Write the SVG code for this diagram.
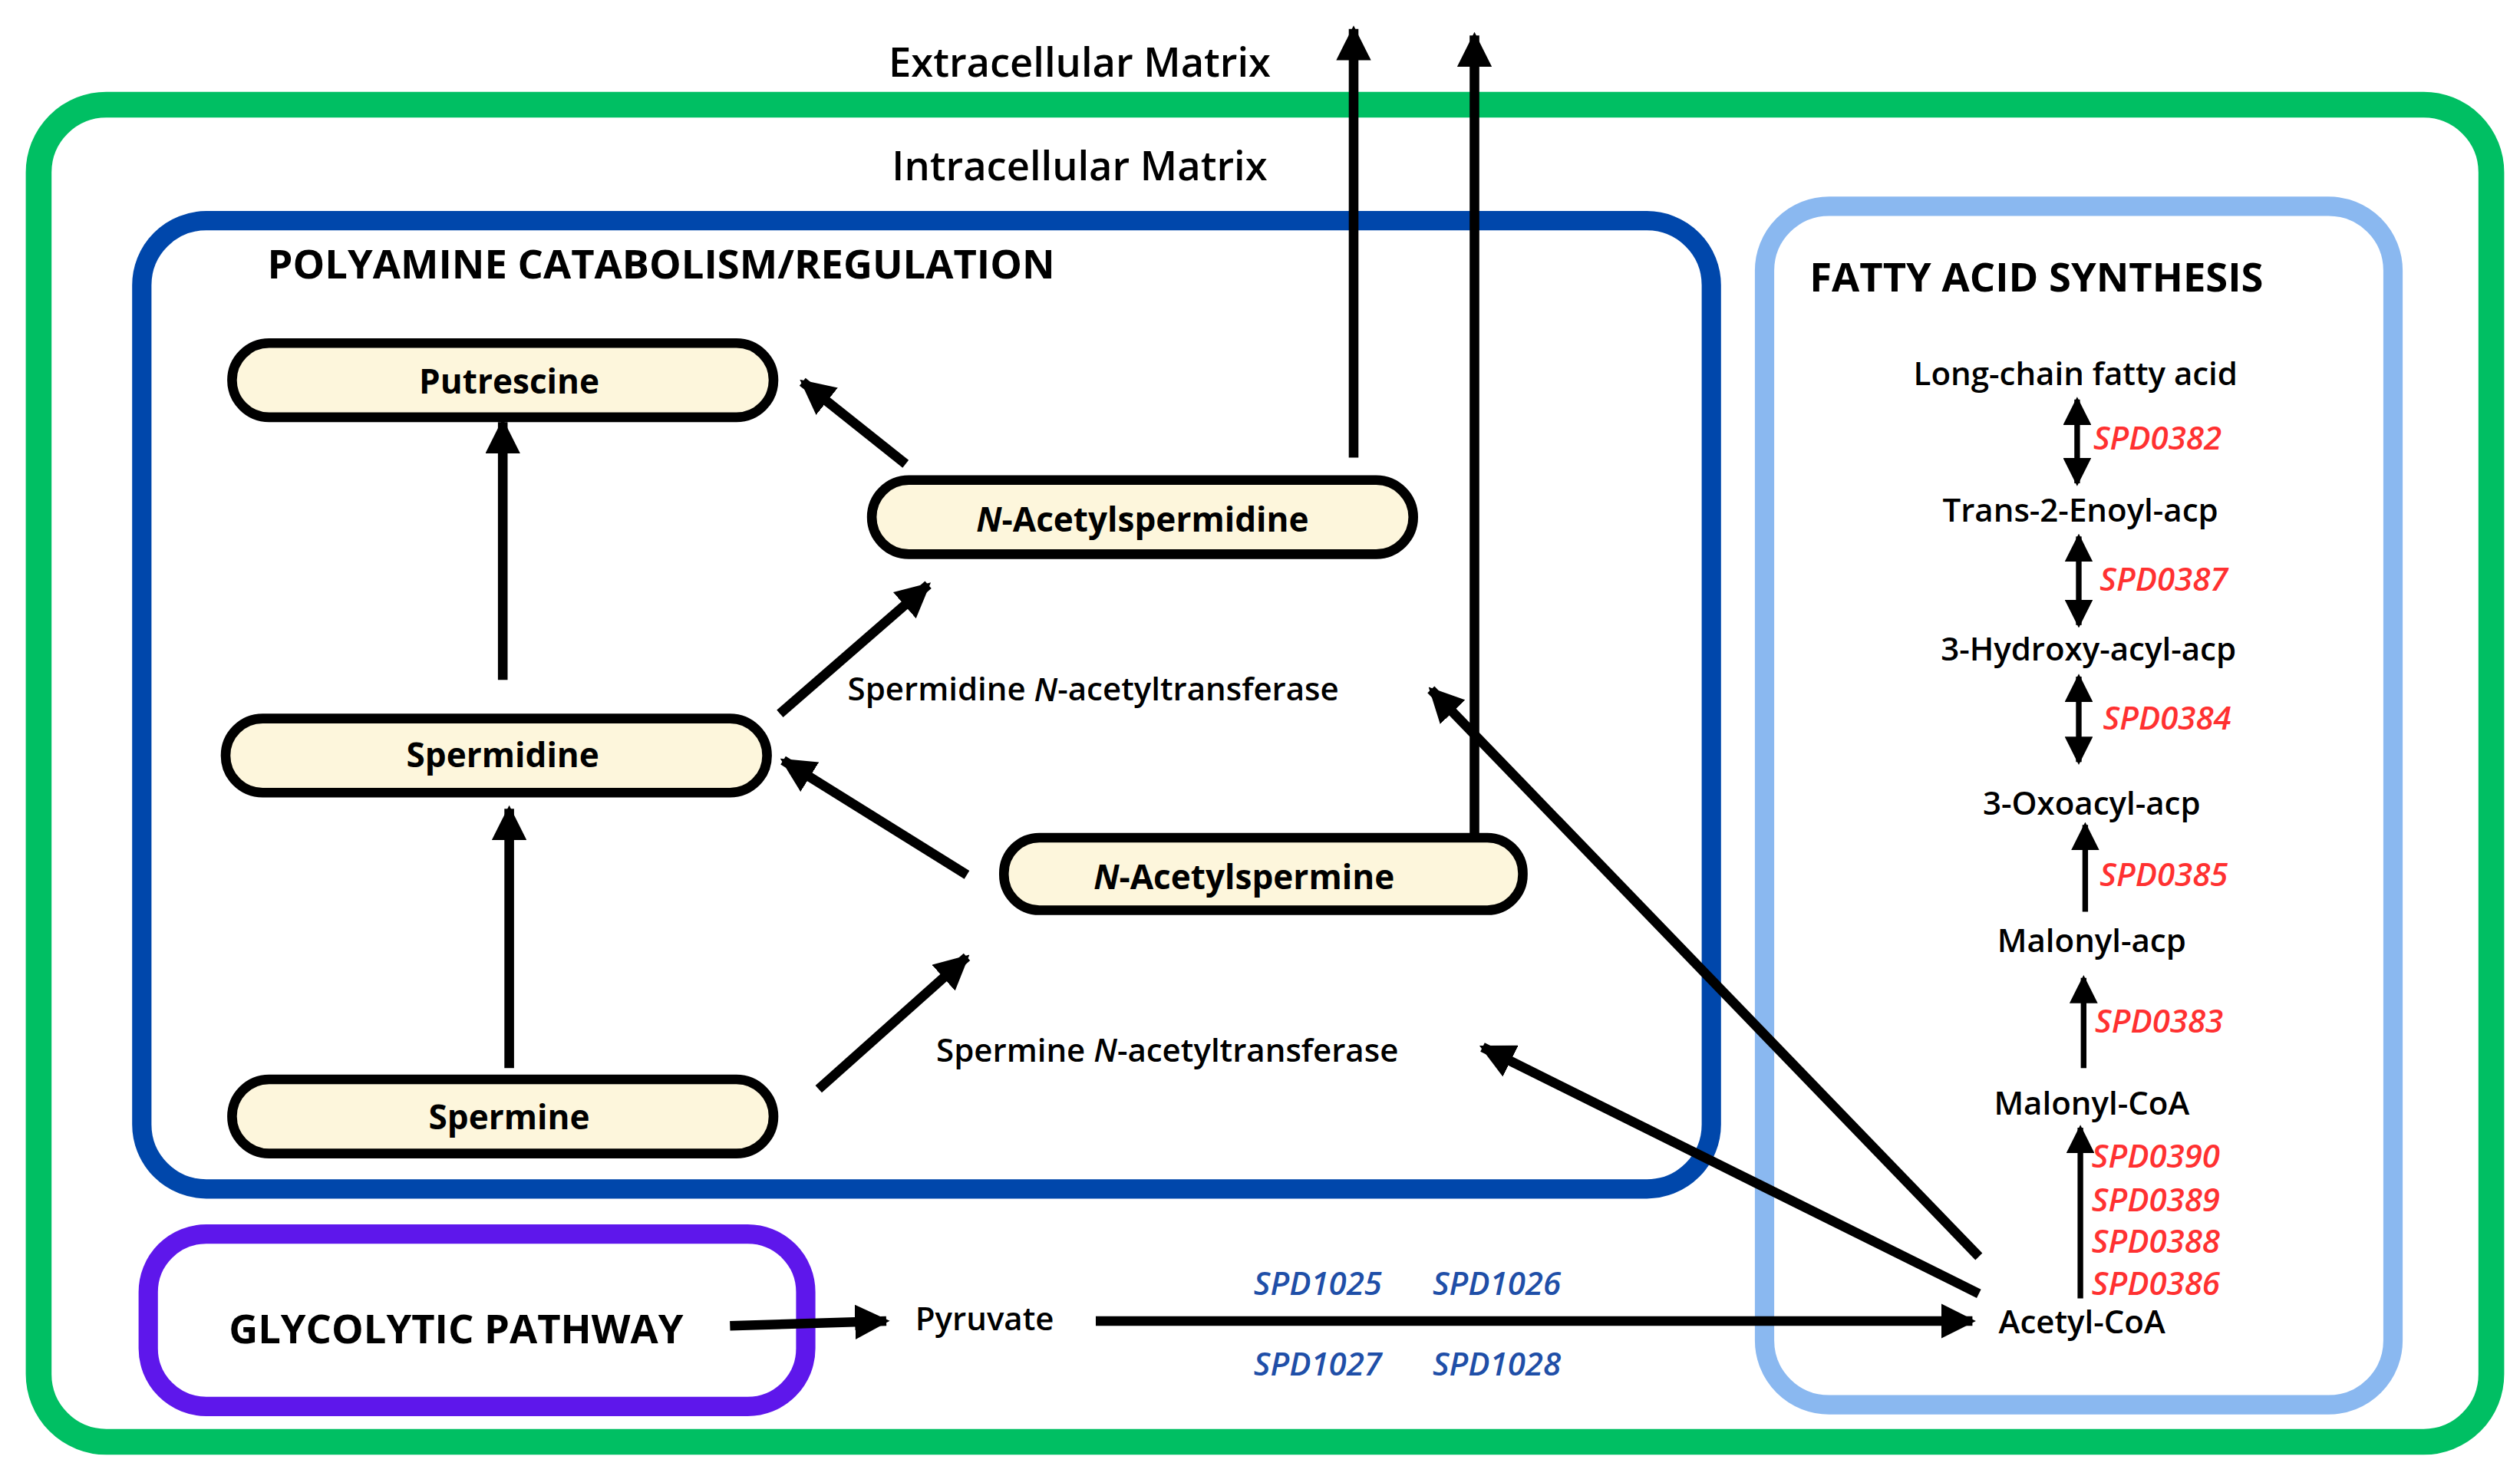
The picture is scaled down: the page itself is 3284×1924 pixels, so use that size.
<svg xmlns="http://www.w3.org/2000/svg" width="3284" height="1924" viewBox="0 0 3284 1924">
<defs>
<marker id="ah" viewBox="0 0 10 10" refX="9" refY="5" markerWidth="3.6" markerHeight="3.6" orient="auto-start-reverse" markerUnits="strokeWidth"><path d="M0,0 L10,5 L0,10 z" fill="#000"/></marker>
<marker id="ah2" viewBox="0 0 10 10" refX="9" refY="5" markerWidth="5" markerHeight="5" orient="auto-start-reverse" markerUnits="strokeWidth"><path d="M0,0 L10,5 L0,10 z" fill="#000"/></marker>
</defs>
<style>
text{font-family:"Open Sans","Liberation Sans",sans-serif;dominant-baseline:central}
.n{font-weight:bold;font-size:21px;text-anchor:middle}
.t{font-weight:bold;font-size:25px}
.m{font-size:20px;font-weight:600}
.r{font-size:20px;font-style:italic;font-weight:600;fill:#FF3131}
.b{font-size:20px;font-style:italic;font-weight:600;fill:#1F4FA8}
.pill{fill:#FDF6DC;stroke:#000;stroke-width:6}
.a{stroke:#000;stroke-width:6;fill:none;marker-end:url(#ah)}
.f{stroke:#000;stroke-width:3.5;fill:none;marker-end:url(#ah2)}
.d{stroke:#000;stroke-width:3.5;fill:none;marker-end:url(#ah2);marker-start:url(#ah2)}
</style>
<rect width="3284" height="1924" fill="#fff"/>
<g transform="scale(2.1)">
<g id="containers">
<rect x="24" y="65" width="1522" height="830" rx="42" fill="none" stroke="#00BF63" stroke-width="16"/>
<rect x="88" y="137" width="974" height="601" rx="40" fill="none" stroke="#0047AB" stroke-width="12"/>
<rect x="1095" y="128" width="390" height="744" rx="40" fill="none" stroke="#8AB8F0" stroke-width="12"/>
<rect x="92" y="766" width="408" height="107" rx="36" fill="none" stroke="#5E17EB" stroke-width="12"/>
</g>
<g id="labels">
<text class="t" x="670" y="38" text-anchor="middle" style="font-weight:600">Extracellular Matrix</text>
<text class="t" x="670" y="102" text-anchor="middle" style="font-weight:600">Intracellular Matrix</text>
<text class="t" x="166" y="163">POLYAMINE CATABOLISM/REGULATION</text>
<text class="t" x="1123" y="171">FATTY ACID SYNTHESIS</text>
<text class="t" x="142" y="824">GLYCOLYTIC PATHWAY</text>
<text class="m" x="526" y="427">Spermidine <tspan font-style="italic">N</tspan>-acetyltransferase</text>
<text class="m" x="581" y="651">Spermine <tspan font-style="italic">N</tspan>-acetyltransferase</text>
<text class="m" x="568" y="818">Pyruvate</text>
<text class="b" x="778" y="796">SPD1025</text><text class="b" x="889" y="796">SPD1026</text>
<text class="b" x="778" y="846">SPD1027</text><text class="b" x="889" y="846">SPD1028</text>
</g>
<g id="fatty" text-anchor="middle">
<text class="m" x="1288" y="231" text-anchor="middle">Long-chain fatty acid</text>
<text class="m" x="1291" y="316" text-anchor="middle">Trans-2-Enoyl-acp</text>
<text class="m" x="1296" y="402" text-anchor="middle">3-Hydroxy-acyl-acp</text>
<text class="m" x="1298" y="498" text-anchor="middle">3-Oxoacyl-acp</text>
<text class="m" x="1298" y="583" text-anchor="middle">Malonyl-acp</text>
<text class="m" x="1298" y="684" text-anchor="middle">Malonyl-CoA</text>
<text class="m" x="1292" y="820" text-anchor="middle">Acetyl-CoA</text>
</g>
<g id="genes">
<text class="r" x="1299" y="271">SPD0382</text>
<text class="r" x="1303" y="359">SPD0387</text>
<text class="r" x="1305" y="445">SPD0384</text>
<text class="r" x="1303" y="542">SPD0385</text>
<text class="r" x="1300" y="633">SPD0383</text>
<text class="r" x="1298" y="717">SPD0390</text>
<text class="r" x="1298" y="744">SPD0389</text>
<text class="r" x="1298" y="770">SPD0388</text>
<text class="r" x="1298" y="796">SPD0386</text>
</g>
<g id="putrescine"><rect class="pill" x="144" y="213" width="336" height="46" rx="23"/><text class="n" x="316" y="236">Putrescine</text></g>
<g id="nacetylspermidine"><rect class="pill" x="541" y="298" width="336" height="46" rx="23"/><text class="n" x="709" y="322"><tspan font-style="italic">N</tspan>-Acetylspermidine</text></g>
<g id="spermidine"><rect class="pill" x="140" y="446" width="336" height="46" rx="23"/><text class="n" x="312" y="468">Spermidine</text></g>
<g id="nacetylspermine"><rect class="pill" x="623" y="520" width="322" height="45" rx="22"/><text class="n" x="772" y="544"><tspan font-style="italic">N</tspan>-Acetylspermine</text></g>
<g id="spermine"><rect class="pill" x="144" y="670" width="336" height="46" rx="23"/><text class="n" x="316" y="693">Spermine</text></g>
<g id="connectors">
<path class="a" d="M312,422 L312,262"/>
<path class="a" d="M562,288 L498,237"/>
<path class="a" d="M484,443 L576,363"/>
<path class="a" d="M600,543 L486,472"/>
<path class="a" d="M316,663 L316,502"/>
<path class="a" d="M508,676 L600,594"/>
<path class="a" d="M840,284 L840,18"/>
<path class="a" d="M915,518 L915,22"/>
<path class="a" d="M1228,780 L888,428"/>
<path class="a" d="M1228,803 L920,650"/>
<path class="a" d="M453,823 L550,820"/>
<path class="a" d="M680,820 L1224,820"/>
<path class="d" d="M1289,248 L1289,300"/>
<path class="d" d="M1290,333 L1290,388"/>
<path class="d" d="M1290,420 L1290,473"/>
<path class="f" d="M1294,566 L1294,512"/>
<path class="f" d="M1293,663 L1293,607"/>
<path class="f" d="M1291,806 L1291,700"/>
</g>
</g>
</svg>
